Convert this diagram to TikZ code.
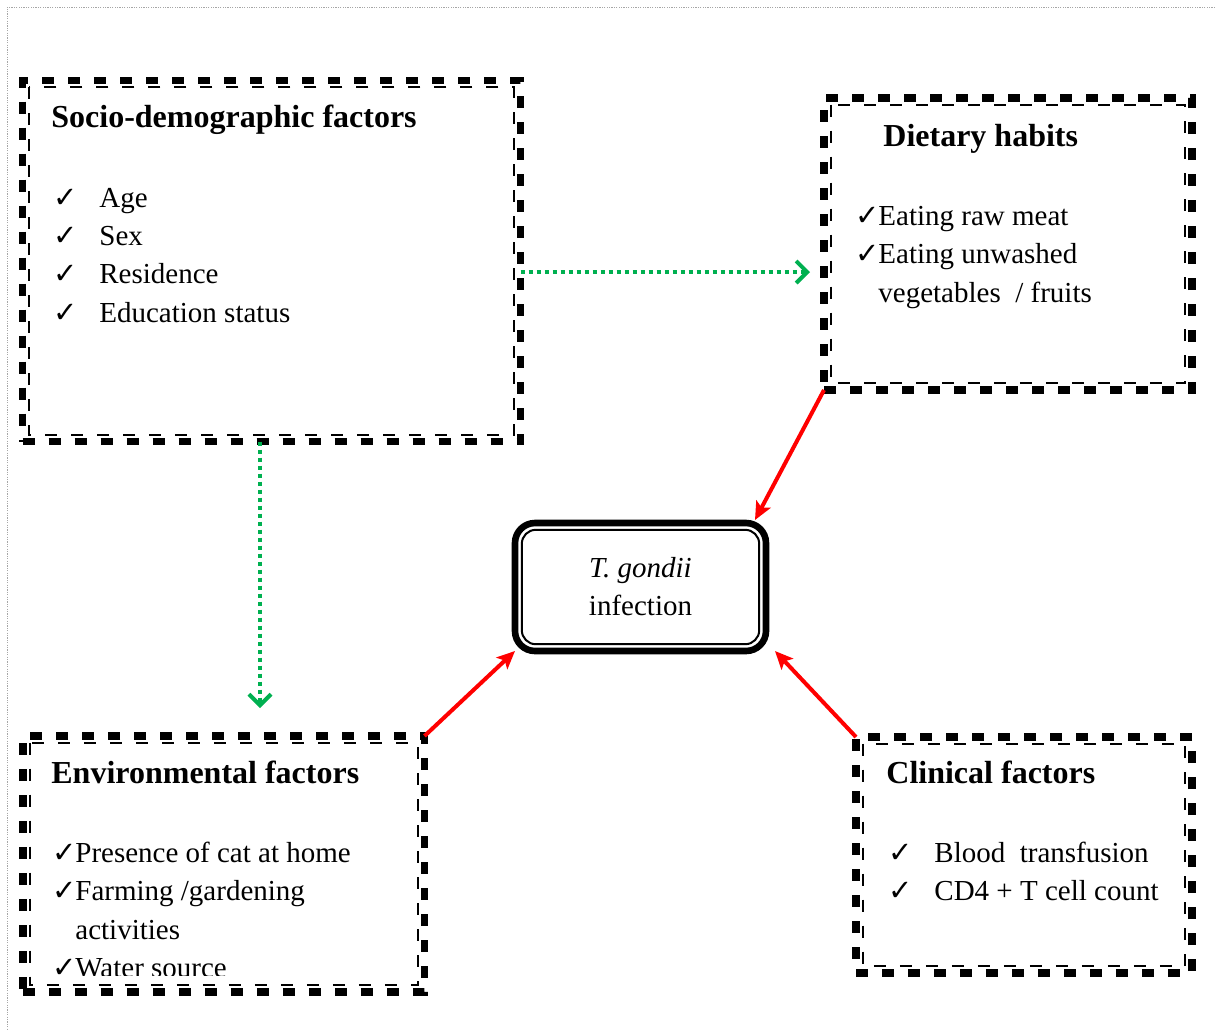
\documentclass[tikz,border=0pt]{standalone}
\usepackage{fontspec}
\setmainfont{Liberation Serif}
\newfontfamily\symfont{DejaVu Sans}
\usetikzlibrary{arrows.meta, calc}
\definecolor{linkgreen}{RGB}{0,176,80}
\newcommand{\tick}[1]{\makebox[#1][l]{\symfont ✓}}

\begin{document}
\begin{tikzpicture}[x=0.5pt,y=-0.5pt]
  \tikzset{
    factor/.style={draw, line width=3.8pt, dash pattern=on 6pt off 7pt,
      inner sep=0pt, outer sep=0pt},
    innerline/.style={line width=1pt, dash pattern=on 6pt off 7pt},
    hub/.style={draw, line width=3.3pt, rounded corners=10pt, align=center,
      minimum width=125.5pt, minimum height=64pt, inner sep=0pt, outer sep=0pt,
      font=\fontsize{14.5}{19}\selectfont},
    txt/.style={anchor=base west, inner sep=0pt, font=\fontsize{14.5}{19}\selectfont},
    head/.style={txt, font=\fontsize{16}{19}\selectfont\bfseries},
    green link/.style={draw=linkgreen, line width=2pt, dash pattern=on 2pt off 2pt,
      -{Straight Barb[length=5.5pt,width=11pt,line width=2pt]}},
    red link/.style={draw=red, line width=2pt, -{Stealth[length=9pt,width=8pt,inset=2pt]}},
    pageframe/.style={draw=black!35, line width=0.5pt, dash pattern=on 0.6pt off 0.6pt}
  }
  \useasboundingbox (0,0) rectangle (1215,1030);
  \draw[pageframe] (1215,7) -- (7,7) -- (7,1030);

  % factor boxes
  \node[factor, minimum width=249pt, minimum height=180.5pt]  (sd)   at (271.5,261) {};
  \node[factor, minimum width=184pt, minimum height=146pt]    (diet) at (1008,244)  {};
  \node[factor, minimum width=200.75pt, minimum height=128pt] (env)  at (223.75,864) {};
  \node[factor, minimum width=168pt, minimum height=118pt]    (clin) at (1024,855)  {};
  \foreach \b in {sd,diet,env,clin}
    \draw[innerline] ([shift={(3.3pt,-3.3pt)}]\b.north west) rectangle ([shift={(-3.3pt,3.3pt)}]\b.south east);

  % outcome
  \node[hub] (hub) at (640.5,587) {\textit{T. gondii}\\infection};
  \draw[line width=1pt, rounded corners=7pt]
    ([shift={(3.4pt,-3.4pt)}]hub.north west) rectangle ([shift={(-3.4pt,3.4pt)}]hub.south east);

  % socio-demographic
  \node[head] (sd_t) at (51,127) {Socio-demographic factors};
  \node[txt]  (sd_1) at (53,207) {\tick{23pt}Age};
  \node[txt]  (sd_2) at (53,245) {\tick{23pt}Sex};
  \node[txt]  (sd_3) at (53,283) {\tick{23pt}Residence};
  \node[txt]  (sd_4) at (53,322) {\tick{23pt}Education status};

  % dietary
  \node[head] (di_t) at (883,146) {Dietary habits};
  \node[txt]  (di_1) at (855,225) {\tick{11.5pt}Eating raw meat};
  \node[txt]  (di_2) at (855,263) {\tick{11.5pt}Eating unwashed};
  \node[txt]  (di_3) at (878,302) {vegetables~ / fruits};

  % environmental
  \node[head] (en_t) at (51,783) {Environmental factors};
  \node[txt]  (en_1) at (52,862) {\tick{11.5pt}Presence of cat at home};
  \node[txt]  (en_2) at (52,900) {\tick{11.5pt}Farming /gardening};
  \node[txt]  (en_3) at (75,939) {activities};
  \begin{scope}
    \clip (30,940) rectangle (410,975);
    \node[txt] (en_4) at (52,977) {\tick{11.5pt}Water source};
  \end{scope}

  % clinical
  \node[head] (cl_t) at (886,783) {Clinical factors};
  \node[txt]  (cl_1) at (888,862) {\tick{23pt}Blood~ transfusion};
  \node[txt]  (cl_2) at (888,900) {\tick{23pt}CD4 + T cell count};

  % links
  \draw[green link, shorten >=7pt] ([yshift=-5.5pt]sd.east) -- ([yshift=-5.5pt]sd.east -| diet.west);
  \draw[green link, shorten >=14pt] ([xshift=-5.75pt]sd.south) -- ([xshift=-5.75pt]sd.south |- env.north);
  \draw[red link] (diet.south west) -- ([shift={(-5.5pt,1.5pt)}]hub.north east);
  \draw[red link] (env.north east) -- (hub.south west);
  \draw[red link] (clin.north west) -- ([xshift=4.5pt]hub.south east);
\end{tikzpicture}
\end{document}
